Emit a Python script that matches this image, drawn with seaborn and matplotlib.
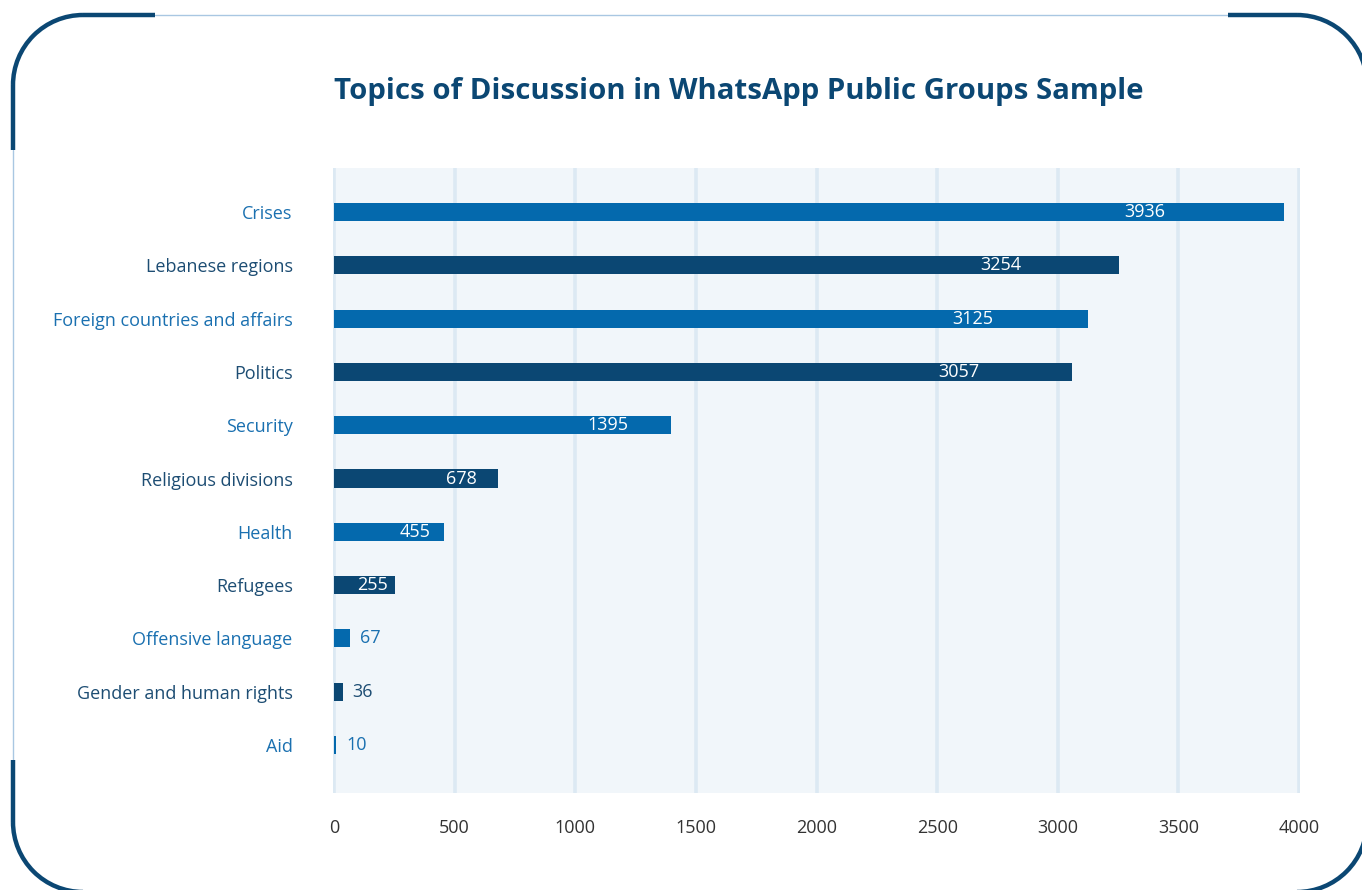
import matplotlib
matplotlib.use("Agg")
import matplotlib.pyplot as plt
import seaborn as sns
import pandas as pd
from matplotlib.patches import Arc

categories = ["Crises", "Lebanese regions", "Foreign countries and affairs", "Politics",
              "Security", "Religious divisions", "Health", "Refugees",
              "Offensive language", "Gender and human rights", "Aid"]
values = [3936, 3254, 3125, 3057, 1395, 678, 455, 255, 67, 36, 10]
x_ticks = [0, 500, 1000, 1500, 2000, 2500, 3000, 3500, 4000]
title = "Topics of Discussion in WhatsApp Public Groups Sample"

LIGHT = "#0469AD"
DARK = "#0B4773"
LIGHT_TXT = "#1A70B0"
DARK_TXT = "#1D4D73"
colors = [LIGHT if i % 2 == 0 else DARK for i in range(len(categories))]
txt_colors = [LIGHT_TXT if i % 2 == 0 else DARK_TXT for i in range(len(categories))]

sns.set_theme(style="white")
plt.rcParams["font.family"] = ["Open Sans", "DejaVu Sans"]

W, H = 1362, 890
fig = plt.figure(figsize=(W / 100, H / 100), dpi=100)
fig.patch.set_facecolor("white")

# decorative frame overlay (pixel coordinates, y measured from top)
bg = fig.add_axes([0, 0, 1, 1], zorder=0)
bg.set_xlim(0, W)
bg.set_ylim(0, H)
bg.axis("off")


def Y(y):
    return H - y


x0, y0, x1, y1, r = 13, 15, 1367, 892, 70
THIN = "#A9C7E2"
bg.plot([155, 1228], [Y(y0), Y(y0)], color=THIN, lw=1.0)
bg.plot([x0, x0], [Y(150), Y(760)], color=THIN, lw=1.0)
lw = 3.2
# top-left
bg.add_patch(Arc((x0 + r, Y(y0 + r)), 2 * r, 2 * r, theta1=90, theta2=180, color=DARK, lw=lw))
bg.plot([x0 + r, 155], [Y(y0), Y(y0)], color=DARK, lw=lw, solid_capstyle="butt")
bg.plot([x0, x0], [Y(y0 + r), Y(150)], color=DARK, lw=lw, solid_capstyle="butt")
# top-right
bg.add_patch(Arc((x1 - r, Y(y0 + r)), 2 * r, 2 * r, theta1=0, theta2=90, color=DARK, lw=lw))
bg.plot([1228, x1 - r], [Y(y0), Y(y0)], color=DARK, lw=lw, solid_capstyle="butt")
# bottom-left
bg.add_patch(Arc((x0 + r, Y(y1 - r)), 2 * r, 2 * r, theta1=180, theta2=270, color=DARK, lw=lw))
bg.plot([x0, x0], [Y(760), Y(y1 - r)], color=DARK, lw=lw, solid_capstyle="butt")
# bottom-right
bg.add_patch(Arc((x1 - r, Y(y1 - r)), 2 * r, 2 * r, theta1=270, theta2=360, color=DARK, lw=lw))

# main chart
ax = fig.add_axes([333 / W, 1 - 793 / H, (1300 - 333) / W, (793 - 168) / H], zorder=1)
df = pd.DataFrame({"topic": categories, "count": values})
sns.barplot(data=df, x="count", y="topic", hue="topic", palette=colors,
            legend=False, width=0.34, ax=ax, saturation=1, linewidth=0)
ax.set_facecolor("#F1F6FA")
ax.set_xlim(-4, 4004)
ax.set_ylim(len(categories) - 1 + 0.9, -0.825)
ax.set_xticks(x_ticks)
ax.set_xticklabels([str(t) for t in x_ticks])
ax.grid(axis="x", color="#DCE9F3", linewidth=2.6)
ax.grid(axis="y", visible=False)
ax.set_axisbelow(True)
for s in ax.spines.values():
    s.set_visible(False)
ax.set_xlabel("")
ax.set_ylabel("")
ax.tick_params(axis="y", length=0, pad=29, labelsize=13)
ax.tick_params(axis="x", length=0, pad=19, labelsize=13, labelcolor="#333333")
for lab, c in zip(ax.get_yticklabels(), txt_colors):
    lab.set_color(c)

for i, v in enumerate(values):
    if v >= 200:
        ax.text(v * 0.875, i, str(v), ha="right", va="center", color="white", fontsize=13)
    else:
        ax.annotate(str(v), (v, i), xytext=(7, 0), textcoords="offset points",
                    ha="left", va="center", color=txt_colors[i], fontsize=13)

fig.text(334 / W, 1 - 92 / H, title, ha="left", va="center", fontsize=21.2,
         fontweight="bold", color=DARK)

fig.savefig("out.png", dpi=100, facecolor="white")
